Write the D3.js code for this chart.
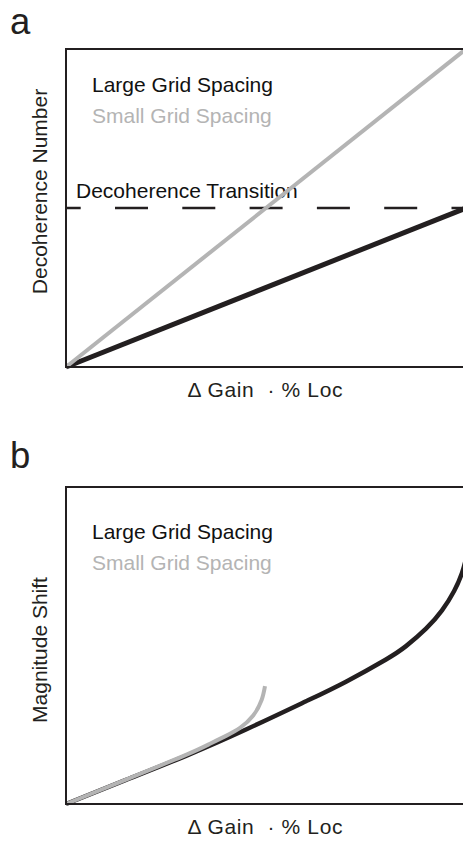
<!DOCTYPE html>
<html>
<head>
<meta charset="utf-8">
<script src="https://cdn.jsdelivr.net/npm/d3@7"></script>
<style>
  html, body { margin: 0; padding: 0; background: #fff; }
  svg { display: block; }
  text { font-family: "Liberation Sans", Arial, Helvetica, sans-serif; }
</style>
</head>
<body>
<svg id="fig" width="463" height="844"></svg>
<script>
// Panel a: decoherence number vs. Δ gain · % loc (linear schematic)
const gainA = [0, 1];
const decoLarge = [0, 0.5];
const decoSmall = [0, 1];
const transitionLevel = 0.5;

// Panel b: magnitude shift vs. Δ gain · % loc
const gainLargeB = [0, 0.15, 0.30, 0.45, 0.60, 0.70, 0.80, 0.85, 0.90, 0.94, 0.97, 0.99, 1.0];
const shiftLarge = [0, 0.076, 0.152, 0.235, 0.324, 0.386, 0.456, 0.498, 0.553, 0.611, 0.671, 0.729, 0.774];
const gainSmallB = [0, 0.15, 0.30, 0.36, 0.40, 0.435, 0.468, 0.489, 0.4975];
const shiftSmall = [0, 0.077, 0.155, 0.190, 0.215, 0.240, 0.279, 0.328, 0.372];

const legendLabels = ["Large Grid Spacing", "Small Grid Spacing"];
const panelLetters = ["a", "b"];
const yTitles = ["Decoherence Number", "Magnitude Shift"];
const xTitle = "Δ Gain  · % Loc";
const transitionLabel = "Decoherence Transition";

const DARK = "#231f20";
const GRAY = "#b4b4b4";

const svg = d3.select("#fig");

function panel(top, bottom, letter, letterBaseline, yTitle, yTitleCenter, legendY) {
  const x = d3.scaleLinear().domain([0, 1]).range([66, 466]);
  const y = d3.scaleLinear().domain([0, 1]).range([bottom, top]);
  const g = svg.append("g");

  g.append("text")
    .attr("x", 10).attr("y", letterBaseline)
    .attr("font-size", 36.5).attr("fill", DARK)
    .text(letter);

  g.append("text")
    .attr("transform", `translate(46.5,${yTitleCenter}) rotate(-90)`)
    .attr("text-anchor", "middle")
    .attr("font-size", 21).attr("fill", DARK)
    .text(yTitle);

  g.append("text")
    .attr("x", 265).attr("y", bottom + 30)
    .attr("text-anchor", "middle")
    .attr("font-size", 21).attr("fill", DARK)
    .attr("textLength", 155).attr("lengthAdjust", "spacing")
    .style("white-space", "pre")
    .text(xTitle);

  g.append("text").attr("x", 92).attr("y", legendY)
    .attr("font-size", 21).attr("fill", "#111").text(legendLabels[0]);
  g.append("text").attr("x", 92).attr("y", legendY + 30.5)
    .attr("font-size", 21).attr("fill", GRAY).text(legendLabels[1]);

  return { g, x, y };
}

function frame(p) {
  p.g.append("rect")
    .attr("x", p.x(0)).attr("y", p.y(1))
    .attr("width", p.x(1) - p.x(0)).attr("height", p.y(0) - p.y(1))
    .attr("fill", "none").attr("stroke", DARK).attr("stroke-width", 2);
}

// ---- Panel a ----
const pa = panel(49, 367, panelLetters[0], 33.5, yTitles[0], 191.5, 92);

pa.g.append("line")
  .attr("x1", pa.x(0)).attr("x2", pa.x(1))
  .attr("y1", pa.y(transitionLevel)).attr("y2", pa.y(transitionLevel))
  .attr("stroke", DARK).attr("stroke-width", 2.6)
  .attr("stroke-dasharray", "33,34.3").attr("stroke-dashoffset", 18.3);

pa.g.append("text")
  .attr("x", 76).attr("y", 198)
  .attr("font-size", 21).attr("fill", "#111")
  .text(transitionLabel);

const lineA = d3.line().x((d, i) => pa.x(gainA[i])).y(d => pa.y(d));
pa.g.append("path").attr("d", lineA(decoLarge))
  .attr("fill", "none").attr("stroke", DARK).attr("stroke-width", 5);
pa.g.append("path").attr("d", lineA(decoSmall))
  .attr("fill", "none").attr("stroke", GRAY).attr("stroke-width", 4);
frame(pa);

// ---- Panel b ----
const pb = panel(487, 804, panelLetters[1], 468, yTitles[1], 650, 539);

const lineLarge = d3.line().curve(d3.curveNatural)
  .x((d, i) => pb.x(gainLargeB[i])).y(d => pb.y(d));
const lineSmall = d3.line().curve(d3.curveNatural)
  .x((d, i) => pb.x(gainSmallB[i])).y(d => pb.y(d));

pb.g.append("path").attr("d", lineLarge(shiftLarge))
  .attr("fill", "none").attr("stroke", DARK).attr("stroke-width", 4.5);
pb.g.append("path").attr("d", lineSmall(shiftSmall))
  .attr("fill", "none").attr("stroke", GRAY).attr("stroke-width", 4);
frame(pb);
</script>
</body>
</html>
